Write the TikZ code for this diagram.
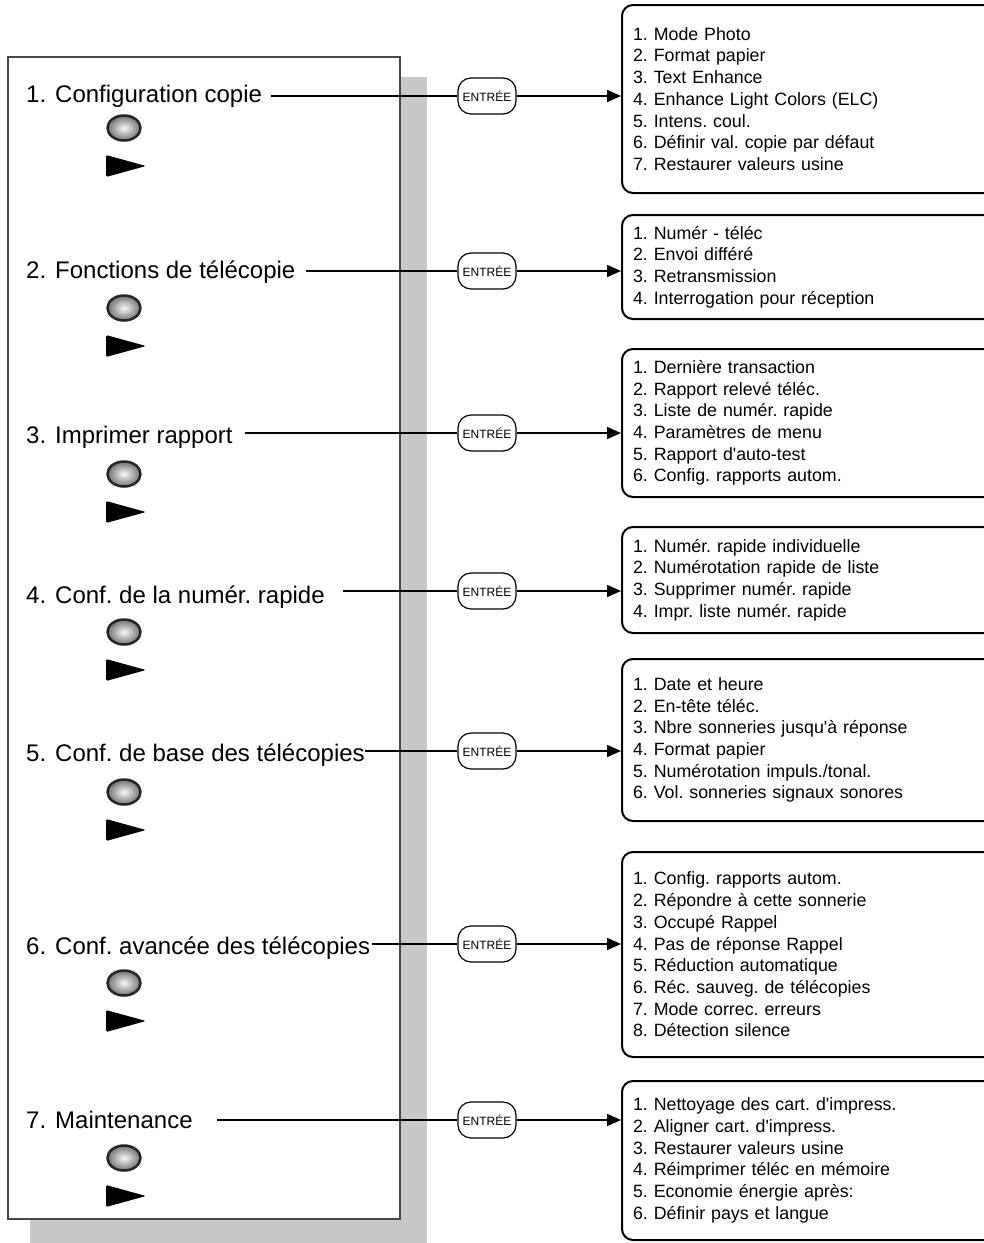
\documentclass[tikz,border=0pt]{standalone}
\usepackage{fontspec}
\setmainfont{Liberation Sans}
\usetikzlibrary{arrows.meta,positioning,calc,shapes.geometric}
\definecolor{shadowgray}{RGB}{200,200,202}
\definecolor{panelline}{RGB}{70,70,70}
\newcommand\menuno[1]{#1.\hspace{9pt}}
\newcommand\apos{\textquotesingle}
\frenchspacing

\begin{document}
\begin{tikzpicture}[x=1pt,y=-1pt,
  menuitem/.style={anchor=west, inner sep=0pt, font=\fontsize{24}{27}\selectfont},
  entree/.style={draw, line width=1.2pt, rounded corners=13pt,
    minimum width=58pt, minimum height=36pt, inner sep=0pt,
    font=\fontsize{12}{13}\selectfont},
  subbox/.style={draw, line width=2pt, rounded corners=11pt, anchor=west,
    text width=380pt, inner xsep=11pt, align=left,
    font=\fontsize{17.8}{21.7}\selectfont},
  button/.style={ellipse, draw=black!85, line width=2.5pt,
    minimum width=33pt, minimum height=25pt, inner sep=0pt,
    inner color=black!3, outer color=black!55},
  link/.style={line width=1.6pt},
  ptr/.style={-{Triangle[length=14pt,width=12pt]}, line width=1.6pt}
]
  \clip (0,0) rectangle (984,1243);

  % panel and its shadow
  \fill[shadowgray] (30,77) rectangle (427,1243);
  \draw[panelline, fill=white, line width=1.2pt] (8,57) rectangle (400,1219);

  % main menu
  \foreach \i/\ty/\ly/\oy/\gap/\lab in {
      1/96/96/128/9/{Configuration copie},
      2/272/271/308/10/{Fonctions de télécopie},
      3/437/433/474/12/{Imprimer rapport},
      4/597/591/632/18/{Conf. de la numér. rapide},
      5/755/751/792/0/{Conf. de base des télécopies},
      6/948/944/983/2/{Conf. avancée des télécopies},
      7/1120/1120/1158/24/{Maintenance}}{
    \node[menuitem] (m\i) at (26,\ty) {\menuno{\i}\lab};
    \node[entree] (e\i) at (487,\ly) {ENTRÉE};
    \node[button] (o\i) at (124,\oy) {};
    \fill[rounded corners=1.5pt] (106,{\oy+27}) -- (146,{\oy+38}) -- (106,{\oy+49}) -- cycle;
    \draw[link] ([xshift=\gap pt]m\i.east |- e\i) -- (e\i);
  }

  % sub menus
  \foreach \i/\t/\b/\lab in {
      1/5/193/{1. Mode Photo\\2. Format papier\\3. Text Enhance\\4. Enhance Light Colors (ELC)\\5. Intens. coul.\\6. Définir val. copie par défaut\\7. Restaurer valeurs usine},
      2/215/319/{1. Numér - téléc\\2. Envoi différé\\3. Retransmission\\4. Interrogation pour réception},
      3/349/497/{1. Dernière transaction\\2. Rapport relevé téléc.\\3. Liste de numér. rapide\\4. Paramètres de menu\\5. Rapport d\apos auto-test\\6. Config. rapports autom.},
      4/527/633/{1. Numér. rapide individuelle\\2. Numérotation rapide de liste\\3. Supprimer numér. rapide\\4. Impr. liste numér. rapide},
      5/659/821/{1. Date et heure\\2. En-tête téléc.\\3. Nbre sonneries jusqu\apos à réponse\\4. Format papier\\5. Numérotation impuls./tonal.\\6. Vol. sonneries signaux sonores},
      6/852/1057/{1. Config. rapports autom.\\2. Répondre à cette sonnerie\\3. Occupé Rappel\\4. Pas de réponse Rappel\\5. Réduction automatique\\6. Réc. sauveg. de télécopies\\7. Mode correc. erreurs\\8. Détection silence},
      7/1081/1240/{1. Nettoyage des cart. d\apos impress.\\2. Aligner cart. d\apos impress.\\3. Restaurer valeurs usine\\4. Réimprimer téléc en mémoire\\5. Economie énergie après:\\6. Définir pays et langue}}{
    \node[subbox, minimum height={(\b-\t)*1pt}] (b\i) at (621,{(\t+\b)/2}) {\lab};
    \draw[ptr] (e\i) -- (e\i -| b\i.west);
  }
\end{tikzpicture}
\end{document}
